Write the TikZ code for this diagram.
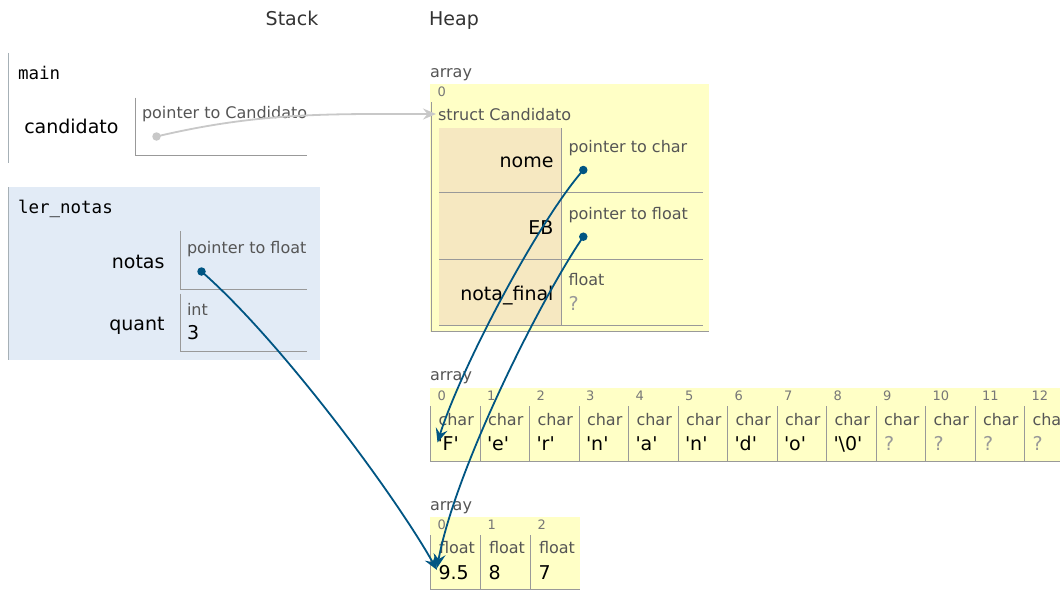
\documentclass[tikz,border=0pt]{standalone}
\usepackage{fontspec}
\setmainfont{DejaVu Sans}
\setmonofont{DejaVu Sans Mono}
\usetikzlibrary{arrows.meta}
\definecolor{ptarrow}{HTML}{005583}
\definecolor{ptlight}{HTML}{C8C8C8}
\definecolor{ptyellow}{HTML}{FFFFC6}
\definecolor{pttan}{HTML}{F6E8C1}
\definecolor{ptframe}{HTML}{E2EBF6}
\definecolor{ptline}{HTML}{999999}
\definecolor{ptframeline}{HTML}{A6B0B6}
\definecolor{pttype}{HTML}{555555}
\definecolor{ptidx}{HTML}{777777}
\definecolor{ptunk}{HTML}{999999}
\definecolor{pthead}{HTML}{333333}
\newcommand\sq{\textquotesingle}
\tikzset{
  every node/.style={inner sep=0pt, outer sep=0pt},
  hdr/.style={anchor=base, font=\fontsize{19}{22}\selectfont, text=pthead},
  fname/.style={anchor=base west, font=\ttfamily\fontsize{17.5}{20}\selectfont},
  vname/.style={anchor=base east, font=\fontsize{19}{22}\selectfont},
  tlabel/.style={anchor=base west, font=\fontsize{16}{19}\selectfont, text=pttype},
  val/.style={anchor=base west, font=\fontsize{19}{22}\selectfont},
  unk/.style={val, text=ptunk},
  idx/.style={anchor=base west, font=\fontsize{13}{15}\selectfont, text=ptidx},
  cellline/.style={draw=ptline, line width=1pt},
  frameline/.style={draw=ptframeline, line width=1pt},
  ptrdot/.style={circle, fill=ptarrow, minimum size=8.5pt},
  lightdot/.style={circle, fill=ptlight, minimum size=8.5pt},
  ptr/.style={draw=ptarrow, line width=1.8pt, -{Stealth[length=14pt,width=12pt,inset=5pt]}},
  lptr/.style={draw=ptlight, line width=1.8pt, -{Stealth[length=13pt,width=11pt,inset=4.5pt]}},
}
\begin{document}
\begin{tikzpicture}[x=1pt,y=-1pt]
\clip (0,0) rectangle (1060,610);
\fill[white] (0,0) rectangle (1060,610);

% headers
\node[hdr] (hstack) at (292,26) {Stack};
\node[hdr] (hheap) at (454,26) {Heap};

% ---- stack: main ----
\draw[frameline] (8.5,53) -- (8.5,163);
\node[fname] (fmain) at (18,80) {main};
\node[vname] (ncand) at (118.5,133) {candidato};
\draw[cellline] (135.5,97.5) -- (135.5,155.5) -- (307,155.5);
\node[tlabel] (tcand) at (142,118) {pointer to Candidato};
\node[lightdot] (dcand) at (156.5,136.5) {};

% ---- stack: ler_notas ----
\fill[ptframe] (8,187) rectangle (320,360);
\draw[frameline] (8.5,187) -- (8.5,360);
\node[fname] (fler) at (18,213) {ler\_notas};
\node[vname] (nnotas) at (164.5,268) {notas};
\draw[cellline] (180.5,231) -- (180.5,289.5) -- (307,289.5);
\node[tlabel] (tnotas) at (187,253.3) {pointer to float};
\node[ptrdot] (dnotas) at (201.5,271.5) {};
\node[vname] (nquant) at (164.5,330.7) {quant};
\draw[cellline] (180.5,293.5) -- (180.5,351.5) -- (307,351.5);
\node[tlabel] (tquant) at (187,315) {int};
\node[val] (vquant) at (187,339.3) {3};

% ---- heap: struct array ----
\node[tlabel] (astruct) at (430,77.3) {array};
\fill[ptyellow] (430,84) rectangle (709,332);
\node[idx] (istruct) at (437.5,96) {0};
\draw[cellline] (431,102) -- (431,331.5) -- (709,331.5);
\node[tlabel] (sname) at (438,120.7) {struct Candidato};
\coordinate (ctip) at (436,114);
\fill[pttan] (439,128) rectangle (561,192);
\fill[pttan] (439,193) rectangle (561,258.5);
\fill[pttan] (439,259.5) rectangle (561,324.5);
\draw[cellline] (561.5,128) -- (561.5,325);
\draw[cellline] (439,192.5) -- (703,192.5);
\draw[cellline] (439,259) -- (703,259);
\draw[cellline] (439,325) -- (703,325);
\node[vname] (fnome) at (553.5,167.3) {nome};
\node[tlabel] (tnome) at (568.5,152.7) {pointer to char};
\node[ptrdot] (dnome) at (583.3,170) {};
\node[vname] (feb) at (553.5,234) {EB};
\node[tlabel] (teb) at (568.5,219.3) {pointer to float};
\node[ptrdot] (deb) at (583.3,236.7) {};
\node[vname] (fnf) at (553.5,300) {nota\_final};
\node[tlabel] (tnf) at (568.5,285) {float};
\node[unk] (vnf) at (568.5,310) {?};

% ---- heap: char array ----
\node[tlabel] (achar) at (430,380) {array};
\fill[ptyellow] (430,388) rectangle (1070,461);
\draw[cellline] (430,461) -- (1070,461);
\foreach \k in {0,...,12} {
  \pgfmathsetmacro\xl{430.5+49.5*\k}
  \draw[cellline] (\xl,406) -- (\xl,461);
  \node[idx] (ci\k) at (\xl+7,400.3) {\k};
  \node[tlabel] (ct\k) at (\xl+8,425) {char};
}
\foreach \v [count=\j from 0] in {F,e,r,n,a,n,d,o} {
  \node[val] (cv\j) at ({430.5+49.5*\j+7},450.7) {\sq\v\sq};
}
\node[val] (cv8) at ({430.5+49.5*8+7},450.7) {\sq\textbackslash0\sq};
\foreach \j in {9,...,12} {
  \node[unk] (cv\j) at ({430.5+49.5*\j+8},450.7) {?};
}
\coordinate (ftip) at (437.5,442.5);

% ---- heap: float array ----
\node[tlabel] (afloat) at (430,510) {array};
\fill[ptyellow] (430,517) rectangle (580,590);
\draw[cellline] (430,589.5) -- (580,589.5);
\foreach \v [count=\j from 0] in {9.5,8,7} {
  \pgfmathsetmacro\xl{430.5+50*\j}
  \draw[cellline] (\xl,535) -- (\xl,590);
  \node[idx] (fi\j) at (\xl+7,529) {\j};
  \node[tlabel] (ft\j) at (\xl+8.5,553.3) {float};
  \node[val] (fv\j) at (\xl+8,579.3) {\v};
}
\coordinate (ntip) at (437,570);
\coordinate (etip) at (437,568);

% ---- pointers ----
\draw[lptr] (dcand.center) .. controls (260,112) and (330,114) .. (ctip);
\draw[ptr] (dnotas.center) .. controls (280,340) and (395,495) .. (ntip);
\draw[ptr] (dnome.center) .. controls (537,223) and (460,370) .. (ftip);
\draw[ptr] (deb.center) .. controls (540,300) and (455,470) .. (etip);
\end{tikzpicture}
\end{document}
